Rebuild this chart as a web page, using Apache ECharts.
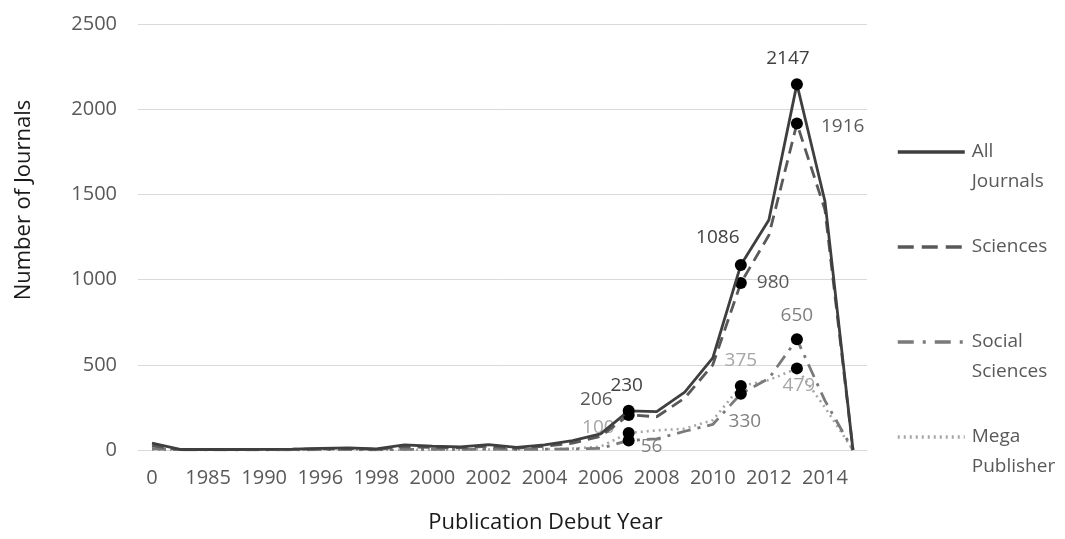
<!DOCTYPE html>
<html>
<head>
<meta charset="utf-8">
<script src="https://cdn.jsdelivr.net/npm/echarts@6/dist/echarts.min.js"></script>
<style>
  html, body { margin: 0; padding: 0; background: #ffffff; }
  #chart { width: 1065px; height: 539px; }
</style>
</head>
<body>
<div id="chart"></div>
<script>
// ---- data ----
const categories = ['0','1983','1985','1988','1990','1993','1996','1997','1998','1999','2000','2001','2002','2003','2004','2005','2006','2007','2008','2009','2010','2011','2012','2013','2014','2015'];
const allJournals    = [40, 3, 3, 3, 4, 5, 10, 12, 6, 30, 22, 18, 32, 15, 30, 55, 95, 230, 225, 340, 540, 1086, 1350, 2147, 1460, 0];
const sciences       = [25, 2, 2, 2, 3, 4, 7, 9, 4, 20, 15, 12, 22, 10, 22, 40, 80, 206, 195, 305, 500, 980, 1260, 1916, 1410, 0];
const socialSciences = [8, 1, 1, 1, 1, 1, 2, 2, 1, 4, 4, 3, 5, 3, 5, 6, 10, 56, 65, 110, 150, 330, 420, 650, 290, 0];
const megaPublisher  = [0, 0, 0, 0, 0, 0, 0, 0, 0, 0, 1, 2, 3, 3, 5, 8, 20, 100, 115, 125, 175, 375, 410, 479, 250, 0];
const seriesNames = ['All Journals', 'Sciences', 'Social Sciences', 'Mega Publisher'];
const legendLines = [['All', 'Journals'], ['Sciences'], ['Social', 'Sciences'], ['Mega', 'Publisher']];
const markedIndex = [17, 21, 23];
const yTicks = { min: 0, max: 2500, interval: 500 };

// ---- styles ----
const FONT = 'Open Sans';
const styles = [
  { color: '#3f3f3f', width: 2.8, type: 'solid', label: '#404040', legendType: 'solid' },
  { color: '#595959', width: 2.8, type: [12, 7], label: '#595959', legendType: [16, 8] },
  { color: '#7a7a7a', width: 2.8, type: [14, 7, 3, 7], label: '#7f7f7f', legendType: [16, 9, 3, 9] },
  { color: '#a6a6a6', width: 2.6, type: [2, 4], label: '#a6a6a6', legendType: [2, 4] }
];
const labelPlace = [
  { 17: { position: 'top', distance: 10, offset: [-2, 0] },
    21: { position: 'top', distance: 12, offset: [-23, 0] },
    23: { position: 'top', distance: 10, offset: [-9, 0] } },
  { 17: { position: 'left', distance: 10, offset: [0, -15] },
    21: { position: 'right', distance: 10, offset: [0, 0] },
    23: { position: 'right', distance: 18, offset: [0, 3] } },
  { 17: { position: 'right', distance: 6, offset: [0, 6] },
    21: { position: 'bottom', distance: 12, offset: [4, 0] },
    23: { position: 'top', distance: 8, offset: [0, 0] } },
  { 17: { position: 'left', distance: 8, offset: [0, -5] },
    21: { position: 'top', distance: 10, offset: [0, 0] },
    23: { position: 'bottom', distance: 2, offset: [2, 0] } }
];

const valueSets = [allJournals, sciences, socialSciences, megaPublisher];

function buildData(values, s) {
  return values.map(function (v, i) {
    if (markedIndex.indexOf(i) >= 0) {
      const p = labelPlace[s][i];
      return {
        value: v,
        symbol: 'circle',
        symbolSize: 12,
        itemStyle: { color: '#000000', borderWidth: 0 },
        label: {
          show: true,
          position: p.position,
          distance: p.distance,
          offset: p.offset,
          color: styles[s].label,
          fontFamily: FONT,
          fontSize: 19
        }
      };
    }
    return { value: v, symbol: 'none' };
  });
}

const series = valueSets.map(function (vals, s) {
  return {
    name: seriesNames[s],
    type: 'line',
    data: buildData(vals, s),
    symbol: 'none',
    showSymbol: true,
    showAllSymbol: true,
    z: 10 - s,
    lineStyle: { color: styles[s].color, width: styles[s].width, type: styles[s].type, cap: 'butt' },
    itemStyle: { color: styles[s].color },
    emphasis: { disabled: true },
    animation: false
  };
});

const legendTops = [107, 232, 297, 392];
const legends = seriesNames.map(function (n, s) {
  const lines = legendLines[s];
  // for two-line labels, an empty first line keeps the icon level with the first word
  const text = lines.length > 1 ? ' \n' + lines.join('\n') : lines[0];
  return {
    orient: 'vertical',
    left: 896,
    top: legendTops[s],
    padding: 0,
    itemWidth: 67,
    itemHeight: 14,
    itemGap: 0,
    selectedMode: false,
    data: [n],
    itemStyle: { opacity: 0 },
    lineStyle: { width: 3.5, type: styles[s].legendType, color: styles[s].color },
    formatter: function () { return text; },
    textStyle: {
      fontFamily: FONT,
      fontSize: 19,
      color: '#595959',
      lineHeight: 30,
      padding: [0, 0, 0, 2]
    }
  };
});

const chart = echarts.init(document.getElementById('chart'), null, { renderer: 'canvas' });
chart.setOption({
  animation: false,
  backgroundColor: '#ffffff',
  grid: { left: 138, right: 198, top: 24, bottom: 88, containLabel: false },
  legend: legends,
  xAxis: {
    type: 'category',
    data: categories,
    boundaryGap: true,
    axisLine: { show: true, lineStyle: { color: '#d9d9d9', width: 1 } },
    axisTick: { show: false },
    axisLabel: { interval: 1, color: '#595959', fontFamily: FONT, fontSize: 20, margin: 18 },
    name: 'Publication Debut Year',
    nameLocation: 'middle',
    nameGap: 62,
    nameTextStyle: { fontFamily: FONT, fontSize: 22, color: '#1a1a1a', padding: [0, 0, 0, 86] }
  },
  yAxis: {
    type: 'value',
    min: yTicks.min,
    max: yTicks.max,
    interval: yTicks.interval,
    axisLine: { show: false },
    axisTick: { show: false },
    splitLine: { show: true, lineStyle: { color: '#d9d9d9', width: 1 } },
    axisLabel: { color: '#595959', fontFamily: FONT, fontSize: 20, margin: 21,
                 formatter: function (v) { return String(v); } },
    name: 'Number of Journals',
    nameLocation: 'middle',
    nameGap: 103,
    nameTextStyle: { fontFamily: FONT, fontSize: 22, color: '#1a1a1a', padding: [0, 0, 0, 74] }
  },
  series: series
});
</script>
</body>
</html>
